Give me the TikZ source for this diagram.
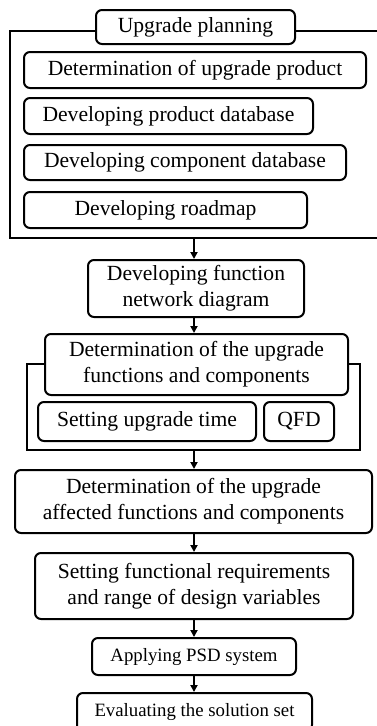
\documentclass[tikz,border=0pt]{standalone}
\usepackage{fontspec}
\setmainfont{Liberation Serif}
\usetikzlibrary{arrows.meta}
\begin{document}
\begin{tikzpicture}[x=1pt,y=-1pt,
  box/.style={draw,line width=2pt,rounded corners=6pt,fill=white,align=center,inner sep=0pt,
    font=\fontsize{21.6}{26}\selectfont},
  sbox/.style={box,font=\fontsize{18.8}{23}\selectfont},
  frame/.style={draw,line width=2pt},
  arr/.style={line width=2pt,-{Triangle[length=7pt,width=7pt]}}]
\useasboundingbox (0,0) rectangle (377,726);
\clip (0,0) rectangle (377,726);
% upgrade planning frame
\draw[frame] (378,31) -- (10,31) -- (10,238) -- (378,238);
\coordinate (f1b) at (194,238);
\node[box,minimum width=199pt,minimum height=34pt] (up) at (195.5,27) {Upgrade planning};
\node[box,minimum width=342pt,minimum height=36pt] (d1) at (195,70) {Determination of upgrade product};
\node[box,minimum width=289pt,minimum height=36pt] (d2) at (168.5,116) {Developing product database};
\node[box,minimum width=322pt,minimum height=35pt] (d3) at (185,162.5) {Developing component database};
\node[box,minimum width=283pt,minimum height=36pt] (d4) at (165.5,210) {Developing roadmap};
% function network
\node[box,minimum width=216pt,minimum height=57pt] (fn) at (196,288.5) {Developing function\\network diagram};
% frame 2
\node[frame,minimum width=333pt,minimum height=86pt,inner sep=0pt] (f2) at (193.5,407) {};
\node[box,minimum width=303pt,minimum height=61pt] (dt) at (196.5,364.5) {Determination of the upgrade\\functions and components};
\node[box,minimum width=218pt,minimum height=39pt] (su) at (147,421.5) {Setting upgrade time};
\node[box,minimum width=70pt,minimum height=39pt] (qfd) at (299,421.5) {QFD};
\node[box,minimum width=357pt,minimum height=63pt] (da) at (193.5,501.5) {Determination of the upgrade\\affected functions and components};
\node[box,minimum width=318pt,minimum height=66pt] (sf) at (194,586) {Setting functional requirements\\and range of design variables};
\node[sbox,minimum width=204pt,minimum height=37pt] (ap) at (194,656.5) {Applying PSD system};
\node[sbox,minimum width=235pt,minimum height=38pt] (ev) at (194.5,712) {Evaluating the solution set};
% arrows
\draw[arr] (f1b) -- (f1b |- fn.north);
\draw[arr] (fn.south -| f1b) -- (f1b |- dt.north);
\draw[arr] (f2.south -| f1b) -- (f1b |- da.north);
\draw[arr] (da.south -| f1b) -- (f1b |- sf.north);
\draw[arr] (sf.south -| f1b) -- (f1b |- ap.north);
\draw[arr] (ap.south -| f1b) -- (f1b |- ev.north);
\end{tikzpicture}
\end{document}
